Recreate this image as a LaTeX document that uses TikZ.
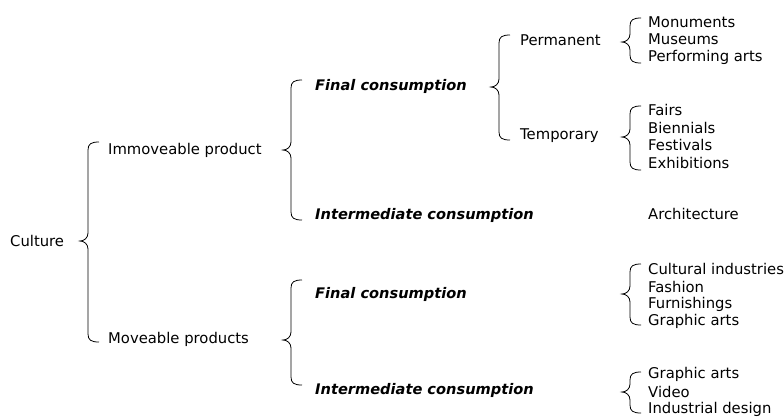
\documentclass[tikz,border=0pt]{standalone}
\usepackage{fontspec}
\setmainfont{DejaVu Sans}
\begin{document}
\begin{tikzpicture}[x=1pt,y=-1pt,
  lbl/.style={anchor=west,inner sep=0pt,font=\fontsize{14.8}{17}\selectfont},
  cons/.style={lbl,font=\fontsize{14.6}{17}\selectfont\bfseries\itshape},
  brace/.style={draw=black,line width=0.8pt}]
\useasboundingbox (0,0) rectangle (784,416);
\newcommand\cbrace[4]{%
 \draw[brace] (#1+19,#2) .. controls (#1+11,#2) and (#1+8,#2+2) .. (#1+8,#2+8) -- (#1+8,#3-8) .. controls (#1+8,#3-3) and (#1+4,#3) .. (#1,#3) .. controls (#1+4,#3) and (#1+8,#3+3) .. (#1+8,#3+8) -- (#1+8,#4-8) .. controls (#1+8,#4-2) and (#1+11,#4) .. (#1+19,#4);}
% labels
\node[lbl] (culture) at (10,241) {Culture};
\node[lbl] (imm) at (108,150) {Immoveable product};
\node[lbl] (mov) at (108,339) {Moveable products};
\node[cons] (fc1) at (315,86) {Final consumption};
\node[cons] (ic1) at (315,215) {Intermediate consumption};
\node[lbl] (perm) at (520,40) {Permanent};
\node[lbl] (temp) at (520,136) {Temporary};
\node[lbl] (mon) at (648,22) {Monuments};
\node[lbl] (mus) at (648,39.5) {Museums};
\node[lbl] (perf) at (648,57) {Performing arts};
\node[lbl] (fairs) at (648,110) {Fairs};
\node[lbl] (bien) at (648,127.5) {Biennials};
\node[lbl] (fest) at (648,145) {Festivals};
\node[lbl] (exh) at (648,162.5) {Exhibitions};
\node[lbl] (arch) at (648,214) {Architecture};
\node[cons] (fc2) at (315,294) {Final consumption};
\node[cons] (ic2) at (315,390) {Intermediate consumption};
\node[lbl] (cult) at (648,269) {Cultural industries};
\node[lbl] (fash) at (648,286.5) {Fashion};
\node[lbl] (furn) at (648,304) {Furnishings};
\node[lbl] (gra1) at (648,321.5) {Graphic arts};
\node[lbl] (gra2) at (648,374) {Graphic arts};
\node[lbl] (vid) at (648,391.5) {Video};
\node[lbl] (ind) at (648,409) {Industrial design};
% braces
\cbrace{80}{142}{241}{342}
\cbrace{283}{80}{150}{220}
\cbrace{491}{35}{87}{140}
\cbrace{622}{18}{42}{63}
\cbrace{622}{106}{137}{170}
\cbrace{283}{280}{340}{385}
\cbrace{622}{264}{294}{325}
\cbrace{622}{372}{392}{413}
\end{tikzpicture}
\end{document}
